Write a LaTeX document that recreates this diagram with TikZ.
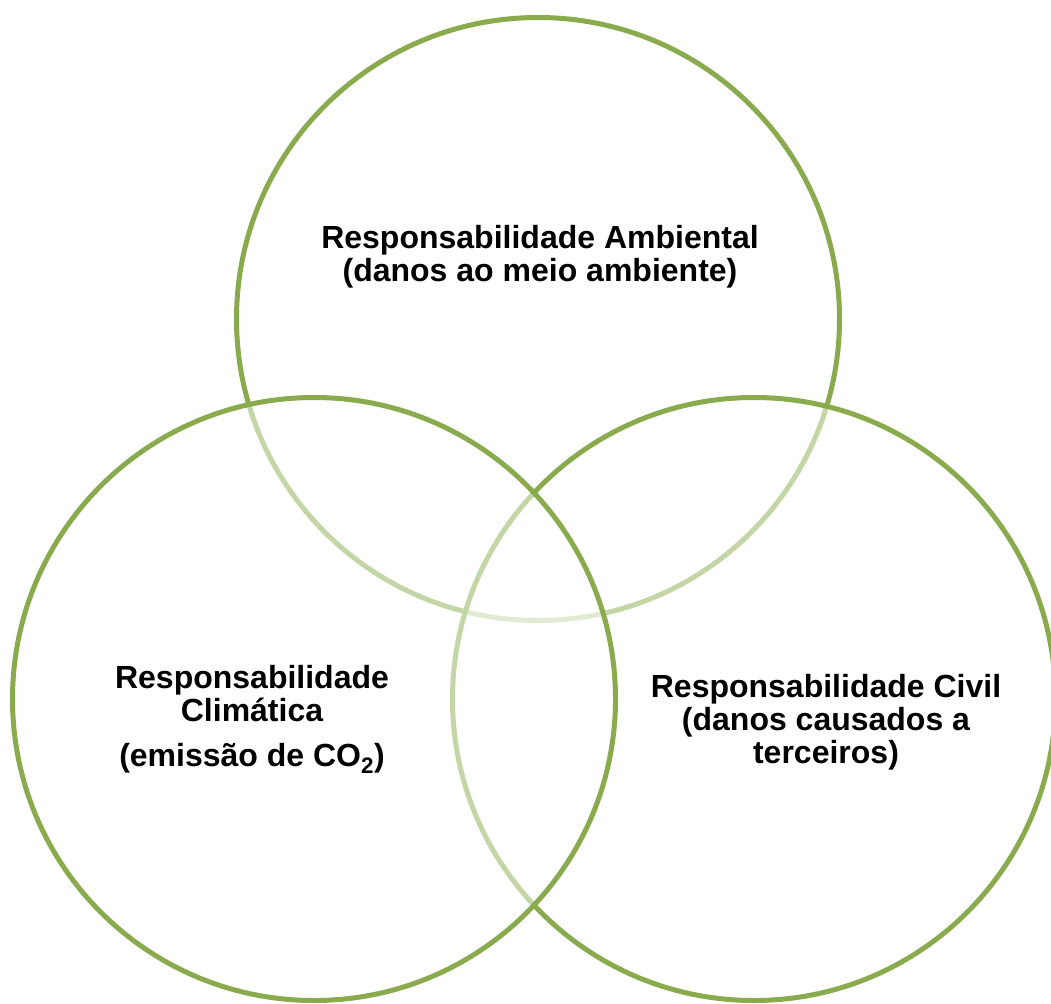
\documentclass[tikz,border=0pt]{standalone}
\usepackage{fontspec}
\setmainfont{Liberation Sans}
\usepackage{xcolor}
\definecolor{vennGreen}{RGB}{138,171,77}
\usepackage{tikz}
\usetikzlibrary{positioning}

\begin{document}
\begin{tikzpicture}[x=1pt,y=-1pt,
  venn/.style={circle,inner sep=0pt,outer sep=0pt,minimum size=603pt,
    draw=vennGreen,line width=5pt,fill=white,fill opacity=0.5},
  lab/.style={align=center,inner sep=0pt,font=\bfseries\fontsize{32}{33}\selectfont}]
\useasboundingbox (0,0) rectangle (1051,1003);
\node[venn] (ambiental) at (538,319) {};
\node[venn] (civil) at (754,699) {};
\node[venn] (climatica) at (314,699) {};
\node[lab] (labAmb) at (540,257) {Responsabilidade Ambiental\\(danos ao meio ambiente)};
\node[lab] (labClim) at (252,719) {Responsabilidade\\Climática\\[12pt](emissão de CO\textsubscript{2})};
\node[lab] (labCiv) at (826,722) {Responsabilidade Civil\\(danos causados a\\terceiros)};
\end{tikzpicture}
\end{document}
